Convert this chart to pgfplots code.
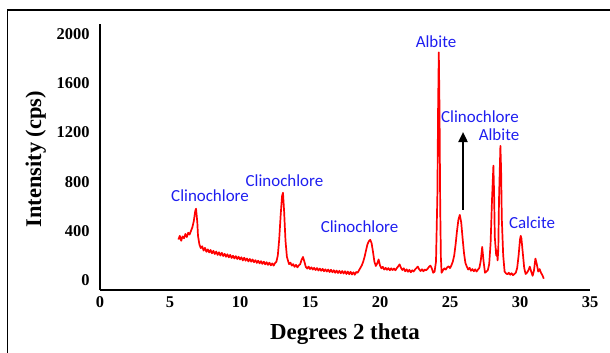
\documentclass[border=0pt]{standalone}
\usepackage{pgfplots}
\pgfplotsset{compat=1.18}
\usepackage{fontspec}
\setmainfont{Liberation Serif}
\newfontfamily\lblfont{Carlito}
\usetikzlibrary{arrows.meta}
\definecolor{lblblue}{RGB}{30,30,240}
\begin{document}
\begin{tikzpicture}
\useasboundingbox (0,0) rectangle (610bp,353bp);
\draw[line width=1.6bp] (7.5bp,0) -- (7.5bp,343bp) -- (610bp,343bp);
\begin{axis}[
  at={(100bp,63bp)}, anchor=south west,
  scale only axis, width=490bp, height=266bp,
  xmin=0, xmax=35, ymin=-80, ymax=2080,
  axis x line=bottom, axis y line=left,
  axis line style={-, line width=2.2bp, black},
  xtick={0,5,...,35}, ytick={0,400,...,2000},
  major tick length=0pt,
  /pgf/number format/assume math mode=true,
  /pgf/number format/set thousands separator={},
  tick label style={font=\bfseries\fontsize{16.5}{18}\selectfont},
  yticklabel style={xshift=-7bp},
  xticklabel style={yshift=-3bp},
  xlabel={Degrees 2 theta},
  ylabel={Intensity (cps)},
  xlabel style={font=\bfseries\fontsize{23}{26}\selectfont, at={(axis description cs:0.5,-0.165)}, anchor=center},
  ylabel style={font=\bfseries\fontsize{22.5}{24}\selectfont, at={(axis description cs:-0.131,0.492)}, anchor=center},
  clip=false,
]
\addplot[red, line width=1.7bp, line join=round] coordinates {
(5.6,330)(5.7,360)(5.8,320)(5.9,355)(6.0,340)(6.1,375)(6.2,350)(6.3,385)(6.4,370)(6.5,400)
(6.6,430)(6.7,480)(6.8,560)(6.86,580)(6.95,470)(7.0,360)(7.1,290)(7.2,260)(7.3,275)(7.4,240)
(7.5,262)(7.6,230)(7.7,250)(7.8,225)(7.9,245)(8.0,218)(8.1,238)(8.2,212)(8.3,232)(8.4,205)
(8.5,226)(8.6,200)(8.7,222)(8.8,196)(8.9,214)(9.0,190)(9.1,210)(9.2,185)(9.3,205)(9.4,180)
(9.5,198)(9.6,176)(9.7,195)(9.8,172)(9.9,190)(10.0,168)(10.1,186)(10.2,160)(10.3,182)(10.4,158)
(10.5,176)(10.6,152)(10.7,172)(10.8,150)(10.9,168)(11.0,146)(11.1,162)(11.2,140)(11.3,158)(11.4,136)
(11.5,154)(11.6,132)(11.7,150)(11.8,128)(11.9,146)(12.0,124)(12.1,142)(12.2,120)(12.3,136)(12.4,118)
(12.5,138)(12.6,150)(12.7,200)(12.8,330)(12.9,520)(13.0,680)(13.07,710)(13.15,560)(13.25,320)(13.35,190)
(13.45,150)(13.5,130)(13.6,142)(13.7,118)(13.8,130)(13.9,108)(14.0,124)(14.1,104)(14.2,120)(14.3,130)
(14.4,165)(14.5,188)(14.6,150)(14.7,108)(14.8,94)(14.9,110)(15.0,90)(15.1,104)(15.2,86)(15.3,100)
(15.4,82)(15.5,98)(15.6,78)(15.7,94)(15.8,76)(15.9,92)(16.0,72)(16.1,88)(16.2,70)(16.3,86)
(16.4,66)(16.5,84)(16.6,64)(16.7,80)(16.8,60)(16.9,78)(17.0,58)(17.1,76)(17.2,56)(17.3,74)
(17.4,54)(17.5,72)(17.6,50)(17.7,70)(17.8,48)(17.9,68)(18.0,46)(18.1,64)(18.2,44)(18.3,66)
(18.4,60)(18.5,80)(18.6,100)(18.7,120)(18.8,150)(18.9,190)(19.0,240)(19.1,290)(19.2,315)(19.3,328)
(19.4,300)(19.5,230)(19.6,150)(19.7,115)(19.8,135)(19.9,168)(20.0,120)(20.1,96)(20.2,108)(20.3,86)
(20.4,100)(20.5,84)(20.6,98)(20.7,80)(20.8,96)(20.9,82)(21.0,94)(21.1,80)(21.2,98)(21.3,112)
(21.4,128)(21.5,100)(21.6,82)(21.7,96)(21.8,72)(21.9,88)(22.0,68)(22.1,84)(22.2,64)(22.3,80)
(22.4,70)(22.5,86)(22.6,98)(22.7,110)(22.8,88)(22.9,74)(23.0,88)(23.1,72)(23.2,86)(23.3,80)
(23.4,92)(23.5,108)(23.6,118)(23.7,96)(23.8,60)(23.9,70)(24.0,150)(24.1,700)(24.15,1400)(24.2,1850)
(24.25,1400)(24.3,600)(24.35,180)(24.4,60)(24.5,80)(24.6,96)(24.7,86)(24.8,104)(24.9,112)(25.0,98)
(25.1,120)(25.2,150)(25.3,200)(25.4,290)(25.5,400)(25.6,490)(25.7,530)(25.8,470)(25.9,340)(26.0,220)
(26.1,140)(26.2,110)(26.3,86)(26.4,100)(26.5,76)(26.6,90)(26.7,72)(26.8,88)(26.9,70)(27.0,86)
(27.1,100)(27.2,160)(27.3,270)(27.4,150)(27.5,60)(27.6,70)(27.7,80)(27.8,130)(27.9,300)(28.0,650)
(28.1,930)(28.15,700)(28.2,350)(28.3,200)(28.35,240)(28.4,160)(28.45,250)(28.5,650)(28.6,1090)(28.65,900)
(28.7,500)(28.8,200)(28.9,70)(29.0,55)(29.1,48)(29.2,60)(29.3,44)(29.4,56)(29.5,40)(29.6,50)
(29.7,60)(29.8,100)(29.9,200)(30.0,330)(30.05,360)(30.1,340)(30.2,220)(30.3,100)(30.4,50)(30.5,60)
(30.6,80)(30.7,110)(30.8,70)(30.9,35)(31.0,80)(31.1,175)(31.2,130)(31.3,70)(31.4,90)(31.5,60)
(31.6,40)(31.7,12)
};
\begin{scope}[every node/.style={font=\lblfont\fontsize{17}{19}\selectfont, text=lblblue, inner sep=0pt}]
\node at (axis cs:7.86,683) {Clinochlore};
\node at (axis cs:13.18,805) {Clinochlore};
\node at (axis cs:18.54,432) {Clinochlore};
\node at (axis cs:24.0,1934) {Albite};
\node at (axis cs:27.14,1325) {Clinochlore};
\node at (axis cs:28.5,1179) {Albite};
\node at (axis cs:30.86,464) {Calcite};
\end{scope}
\draw[line width=2.2bp, -{Triangle[length=10bp,width=9bp]}] (axis cs:25.93,570) -- (axis cs:25.93,1203);
\end{axis}
\end{tikzpicture}
\end{document}
